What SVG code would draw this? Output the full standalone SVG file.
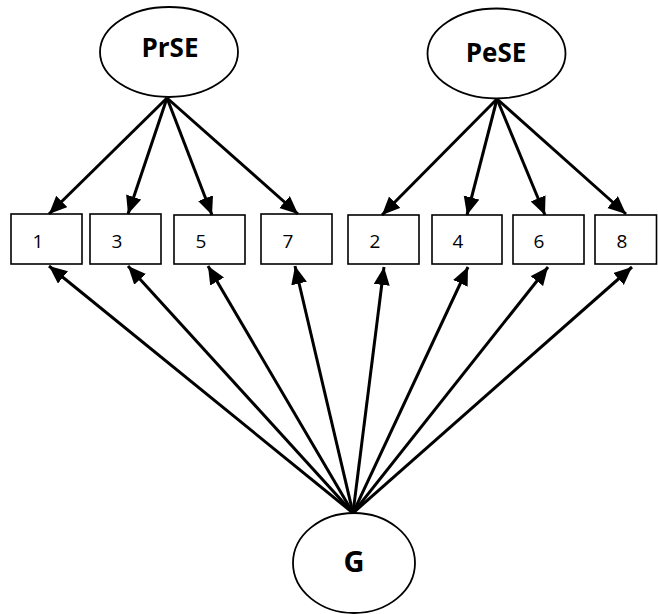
<svg xmlns="http://www.w3.org/2000/svg" width="658" height="614" viewBox="0 0 658 614">
<defs>
<marker id="ah" markerUnits="userSpaceOnUse" markerWidth="19" markerHeight="17" refX="18" refY="8" orient="auto">
<path d="M0,0 L18,8 L0,16 z" fill="#000"/>
</marker>
<style>
.lat{fill:#fff;stroke:#000;stroke-width:1.8}
.box{fill:#fff;stroke:#000;stroke-width:1.6}
.lt{font-family:"Open Sans","Liberation Sans",sans-serif;font-weight:bold;text-anchor:middle;fill:#000}
.nt{font-family:"Open Sans","Liberation Sans",sans-serif;font-size:19px;text-anchor:middle;fill:#000}
.c line{stroke:#000;stroke-width:3;marker-end:url(#ah)}
</style>
</defs>
<rect width="658" height="614" fill="#fff"/>
<g id="PrSE"><ellipse class="lat" cx="169" cy="52" rx="69" ry="45"/><text class="lt" x="170" y="57" font-size="26">PrSE</text></g>
<g id="PeSE"><ellipse class="lat" cx="496.5" cy="53.5" rx="69" ry="45"/><text class="lt" x="496" y="62" font-size="26">PeSE</text></g>
<g id="G"><ellipse class="lat" cx="354" cy="563" rx="61" ry="50"/><text class="lt" x="354" y="572" font-size="29">G</text></g>
<g id="n1"><rect class="box" x="11" y="214" width="71" height="50"/><text class="nt" x="38" y="248">1</text></g>
<g id="n3"><rect class="box" x="90" y="214" width="71" height="50"/><text class="nt" x="117" y="248">3</text></g>
<g id="n5"><rect class="box" x="174" y="215" width="71" height="49"/><text class="nt" x="201" y="248">5</text></g>
<g id="n7"><rect class="box" x="261" y="214" width="71" height="50"/><text class="nt" x="288" y="248">7</text></g>
<g id="n2"><rect class="box" x="348" y="215" width="71" height="49"/><text class="nt" x="375" y="248">2</text></g>
<g id="n4"><rect class="box" x="432" y="215" width="70" height="49"/><text class="nt" x="458" y="248">4</text></g>
<g id="n6"><rect class="box" x="513" y="215" width="71" height="49"/><text class="nt" x="539" y="248">6</text></g>
<g id="n8"><rect class="box" x="595" y="215" width="61.5" height="49"/><text class="nt" x="622" y="248">8</text></g>
<g id="connectors" class="c">
<line x1="167" y1="98" x2="49" y2="214"/>
<line x1="167" y1="98" x2="128" y2="214"/>
<line x1="167" y1="98" x2="212" y2="215"/>
<line x1="167" y1="98" x2="298" y2="214"/>
<line x1="497" y1="99" x2="382" y2="215"/>
<line x1="497" y1="99" x2="467" y2="215"/>
<line x1="497" y1="99" x2="545" y2="215"/>
<line x1="497" y1="99" x2="626" y2="214"/>
<line x1="353" y1="513" x2="49" y2="266"/>
<line x1="353" y1="513" x2="128" y2="266"/>
<line x1="353" y1="513" x2="208" y2="266"/>
<line x1="353" y1="513" x2="295" y2="266"/>
<line x1="353" y1="513" x2="384" y2="267"/>
<line x1="353" y1="513" x2="468" y2="267"/>
<line x1="353" y1="513" x2="548" y2="267"/>
<line x1="353" y1="513" x2="632" y2="267"/>
</g>
</svg>
